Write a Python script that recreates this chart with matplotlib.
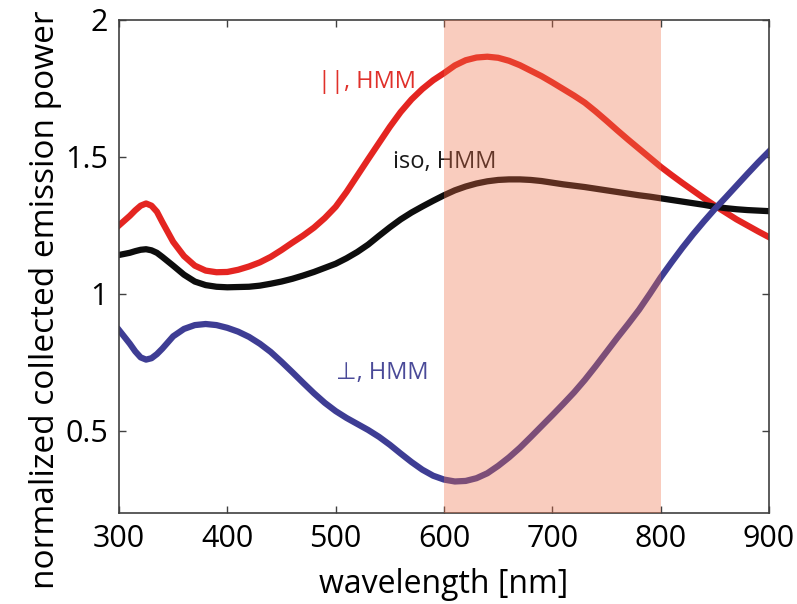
import matplotlib
matplotlib.use("Agg")
import matplotlib.pyplot as plt
from matplotlib.ticker import FormatStrFormatter

plt.rcParams['font.family'] = ['Open Sans', 'DejaVu Sans']

# Wavelength grid [nm]
wavelength = [300, 310, 315, 320, 325, 330, 335, 340, 350, 360, 370, 380, 390, 400,
              410, 420, 430, 440, 450, 460, 470, 480, 490, 500, 510, 520, 530, 540,
              550, 560, 570, 580, 590, 600, 610, 620, 630, 640, 650, 660, 670, 680,
              690, 700, 710, 720, 730, 740, 750, 760, 770, 780, 790, 800, 810, 820,
              830, 840, 850, 860, 870, 880, 890, 900]

# Parallel dipole on HMM
par_hmm = [1.25, 1.285, 1.305, 1.322, 1.33, 1.322, 1.30, 1.262, 1.19, 1.138, 1.103,
           1.085, 1.079, 1.08, 1.088, 1.10, 1.115, 1.135, 1.16, 1.187, 1.213, 1.242,
           1.277, 1.318, 1.372, 1.432, 1.492, 1.551, 1.61, 1.664, 1.71, 1.748, 1.78,
           1.806, 1.834, 1.853, 1.863, 1.866, 1.862, 1.851, 1.835, 1.815, 1.795,
           1.772, 1.748, 1.724, 1.698, 1.666, 1.632, 1.597, 1.563, 1.53, 1.497,
           1.464, 1.434, 1.405, 1.377, 1.349, 1.322, 1.297, 1.272, 1.25, 1.228, 1.207]

# Isotropic dipole on HMM
iso_hmm = [1.142, 1.15, 1.156, 1.161, 1.163, 1.159, 1.15, 1.135, 1.103, 1.07, 1.045,
           1.032, 1.026, 1.024, 1.025, 1.026, 1.03, 1.037, 1.045, 1.055, 1.067, 1.08,
           1.095, 1.11, 1.13, 1.153, 1.18, 1.212, 1.243, 1.272, 1.297, 1.319, 1.34,
           1.36, 1.378, 1.392, 1.403, 1.411, 1.416, 1.418, 1.418, 1.416, 1.412,
           1.406, 1.40, 1.395, 1.39, 1.384, 1.378, 1.372, 1.366, 1.36, 1.355, 1.349,
           1.343, 1.337, 1.331, 1.325, 1.318, 1.313, 1.309, 1.306, 1.304, 1.302]

# Perpendicular dipole on HMM
perp_hmm = [0.868, 0.818, 0.79, 0.768, 0.76, 0.765, 0.78, 0.80, 0.845, 0.872, 0.886,
            0.89, 0.886, 0.876, 0.862, 0.843, 0.818, 0.788, 0.752, 0.714, 0.675,
            0.637, 0.602, 0.572, 0.547, 0.525, 0.503, 0.478, 0.449, 0.417, 0.386,
            0.358, 0.336, 0.322, 0.315, 0.317, 0.327, 0.345, 0.372, 0.403, 0.438,
            0.477, 0.517, 0.557, 0.598, 0.64, 0.686, 0.736, 0.788, 0.84, 0.89, 0.942,
            1.00, 1.06, 1.115, 1.168, 1.218, 1.265, 1.31, 1.352, 1.395, 1.438,
            1.48, 1.52]

band = (600, 800)

fig = plt.figure(figsize=(7.97, 6.04), dpi=100)
ax = fig.add_axes([0.1493, 0.1507, 0.8156, 0.8162])

ax.plot(wavelength, par_hmm, color='#e42521', lw=4.5)
ax.plot(wavelength, iso_hmm, color='#0d0d0d', lw=4.5)
ax.plot(wavelength, perp_hmm, color='#3e3d94', lw=4.5)

# highlighted band, laid over the curves
ax.axvspan(band[0], band[1], color='#f06e46', alpha=0.35, lw=0, zorder=5)

ax.text(484, 1.774, '||, HMM', color='#e0302a', fontsize=17, va='center')
ax.text(553, 1.482, 'iso, HMM', color='#1a1a1a', fontsize=17, va='center')
ax.text(500, 0.711, '⊥, HMM', color='#4a4a98', fontsize=17, va='center')

ax.set_xlim(300, 900)
ax.set_ylim(0.2, 2)
ax.set_xticks([300, 400, 500, 600, 700, 800, 900])
ax.set_yticks([0.5, 1, 1.5, 2])
ax.yaxis.set_major_formatter(FormatStrFormatter('%g'))

ax.tick_params(direction='in', top=True, right=True, length=5, width=1,
               color='#404040', labelsize=22, pad=8)
for s in ax.spines.values():
    s.set_color('#404040')
    s.set_linewidth(1.2)

ax.set_xlabel('wavelength [nm]', fontsize=23, labelpad=10)
ax.set_ylabel('normalized collected emission power', fontsize=24)
ax.yaxis.set_label_coords(-0.088, 0.432)

fig.savefig('out.png', dpi=100)
